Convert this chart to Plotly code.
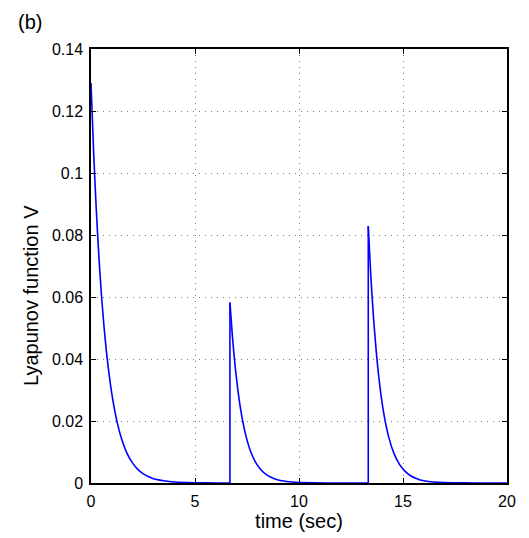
import plotly.graph_objects as go

# Decay segments (time in sec, V value)
seg1_t = [0.0, 0.125, 0.25, 0.375, 0.5, 0.625, 0.75, 1.0, 1.25, 1.5, 1.75, 2.0, 2.25, 2.5, 2.75, 3.0, 3.25, 3.5, 4.0, 5.0, 6.0, 6.68]
seg1_v = [0.129, 0.107, 0.0887, 0.0735, 0.0609, 0.0505, 0.0419, 0.0288, 0.0198, 0.0136, 0.0093, 0.0064, 0.0044, 0.0030, 0.0021, 0.0014, 0.0010, 0.0007, 0.0003, 0.00007, 0.00001, 0.0]

seg2_t = [6.68, 6.805, 6.93, 7.18, 7.43, 7.68, 7.93, 8.18, 8.43, 8.68, 8.93, 9.18, 9.68, 10.68, 12.0, 13.33]
seg2_v = [0.0582, 0.0468, 0.0376, 0.0243, 0.0157, 0.0101, 0.0065, 0.0042, 0.0027, 0.0018, 0.0011, 0.0007, 0.0003, 0.00005, 0.0, 0.0]

seg3_t = [13.33, 13.455, 13.58, 13.83, 14.08, 14.33, 14.58, 14.83, 15.08, 15.33, 15.58, 15.83, 16.33, 17.33, 18.5, 20.0]
seg3_v = [0.0829, 0.0666, 0.0535, 0.0346, 0.0223, 0.0144, 0.0093, 0.0060, 0.0039, 0.0025, 0.0016, 0.0010, 0.0004, 0.00008, 0.0, 0.0]

# Jumps (impulses) at switching times
jump_t = [6.68, 13.33]
jump_v = [0.0582, 0.0829]

x_ticks = [0, 5, 10, 15, 20]
y_ticks = [0, 0.02, 0.04, 0.06, 0.08, 0.1, 0.12, 0.14]
y_tick_text = ["0", "0.02", "0.04", "0.06", "0.08", "0.1", "0.12", "0.14"]

blue = "#0000ff"
fig = go.Figure()
for ts, vs in [(seg1_t, seg1_v), (seg2_t, seg2_v), (seg3_t, seg3_v)]:
    fig.add_trace(go.Scatter(x=ts, y=vs, mode="lines",
                             line=dict(color=blue, width=1.6, shape="spline", smoothing=0.5),
                             hoverinfo="skip", showlegend=False))
for tj, vj in zip(jump_t, jump_v):
    fig.add_trace(go.Scatter(x=[tj, tj], y=[0, vj], mode="lines",
                             line=dict(color=blue, width=1.6),
                             hoverinfo="skip", showlegend=False))

fam = "Liberation Sans, Arial, sans-serif"
tick_font = dict(family=fam, size=16, color="black")
title_font = dict(family=fam, size=20, color="black")
axis_common = dict(showline=True, linecolor="black", linewidth=1.5, mirror="ticks",
                   ticks="inside", ticklen=5, tickwidth=1, tickcolor="black",
                   showgrid=True, gridcolor="rgba(110,110,110,0.9)", griddash="1px,5px", gridwidth=1,
                   zeroline=False, tickfont=tick_font)

fig.update_layout(
    width=529, height=538,
    margin=dict(l=91, r=22, t=49, b=55),
    paper_bgcolor="white", plot_bgcolor="white",
    xaxis=dict(range=[0, 20], tickvals=x_ticks, ticklabelstandoff=3,
               title=dict(text="time (sec)", font=title_font, standoff=3), **axis_common),
    yaxis=dict(range=[0, 0.14], tickvals=y_ticks, ticktext=y_tick_text, ticklabelstandoff=3,
               **axis_common),
)
plot_w = 529 - 91 - 22
plot_h = 538 - 49 - 55
# y-axis label, placed slightly below the axis centre as in the reference
fig.add_annotation(text="Lyapunov function V", textangle=-90,
                   x=(31 - 91) / plot_w, y=(483 - 296) / plot_h,
                   xref="paper", yref="paper", showarrow=False, xanchor="center", yanchor="middle",
                   font=title_font)
fig.add_annotation(text="(b)", x=(30 - 91) / plot_w, y=(538 - 55 - 22) / plot_h,
                   xref="paper", yref="paper", showarrow=False, xanchor="center", yanchor="middle",
                   font=dict(family=fam, size=20, color="black"))

fig.write_html("out.html")
